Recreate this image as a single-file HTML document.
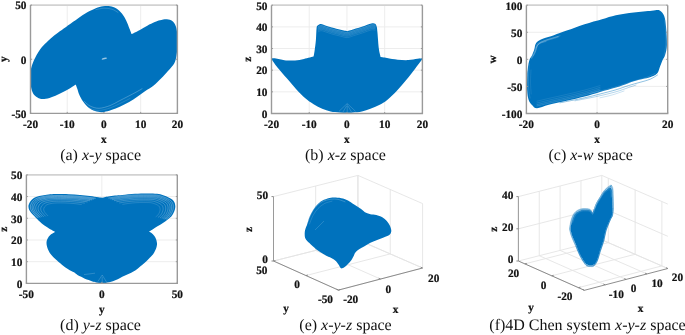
<!DOCTYPE html><html><head><meta charset="utf-8"><style>html,body{margin:0;padding:0;background:#fff;}body{width:685px;height:335px;overflow:hidden}svg{display:block;will-change:transform}text{font-family:"Liberation Serif";fill:#111;text-rendering:geometricPrecision}text[font-weight]{stroke:#111;stroke-width:0.22px}</style></head><body>
<svg width="685" height="335" viewBox="0 0 685 335">
<rect width="685" height="335" fill="#fff"/>
<line x1="67.22" y1="5.10" x2="67.22" y2="113.40" stroke="#ebebeb" stroke-width="0.9"/>
<line x1="103.95" y1="5.10" x2="103.95" y2="113.40" stroke="#ebebeb" stroke-width="0.9"/>
<line x1="140.68" y1="5.10" x2="140.68" y2="113.40" stroke="#ebebeb" stroke-width="0.9"/>
<line x1="30.50" y1="59.25" x2="177.40" y2="59.25" stroke="#ebebeb" stroke-width="0.9"/>
<path d="M103.00,6.30 C105.38,5.95 107.93,5.88 110.10,6.20 C112.27,6.52 114.03,7.00 116.00,8.20 C117.97,9.40 120.17,11.28 121.90,13.40 C123.63,15.52 125.15,18.40 126.40,20.90 C127.65,23.40 128.53,26.22 129.40,28.40 C130.27,30.58 131.60,34.00 131.60,34.00 C131.60,34.00 137.28,31.28 139.90,29.90 C142.52,28.52 144.82,27.00 147.30,25.70 C149.78,24.40 152.68,23.00 154.80,22.10 C156.92,21.20 157.98,20.77 160.00,20.30 C162.02,19.83 164.85,19.17 166.90,19.30 C168.95,19.43 170.80,19.90 172.30,21.10 C173.80,22.30 175.08,24.40 175.90,26.50 C176.72,28.60 176.97,31.12 177.20,33.70 C177.43,36.28 177.30,39.32 177.30,42.00 C177.30,44.68 177.43,47.00 177.20,49.80 C176.97,52.60 176.57,56.25 175.90,58.80 C175.23,61.35 174.82,62.75 173.20,65.10 C171.58,67.45 168.40,70.50 166.20,72.90 C164.00,75.30 162.08,77.42 160.00,79.50 C157.92,81.58 156.20,83.45 153.70,85.40 C151.20,87.35 147.73,89.32 145.00,91.20 C142.27,93.08 139.93,94.90 137.30,96.70 C134.67,98.50 132.03,100.37 129.20,102.00 C126.37,103.63 123.28,105.15 120.30,106.50 C117.32,107.85 113.98,109.18 111.30,110.10 C108.62,111.02 106.13,111.70 104.20,112.00 C102.27,112.30 101.50,112.15 99.70,111.90 C97.90,111.65 95.48,111.40 93.40,110.50 C91.32,109.60 88.98,108.07 87.20,106.50 C85.42,104.93 84.03,103.10 82.70,101.10 C81.37,99.10 80.12,96.60 79.20,94.50 C78.28,92.40 77.78,90.17 77.20,88.50 C76.62,86.83 75.70,84.50 75.70,84.50 C75.70,84.50 73.98,85.75 72.30,86.80 C70.62,87.85 68.07,89.47 65.60,90.80 C63.13,92.13 60.18,93.62 57.50,94.80 C54.82,95.98 51.95,97.22 49.50,97.90 C47.05,98.58 44.60,98.85 42.80,98.90 C41.00,98.95 40.17,98.88 38.70,98.20 C37.23,97.52 35.22,96.37 34.00,94.80 C32.78,93.23 31.97,91.15 31.40,88.80 C30.83,86.45 30.73,83.50 30.60,80.70 C30.47,77.90 30.42,74.40 30.60,72.00 C30.78,69.60 31.02,68.50 31.70,66.30 C32.38,64.10 33.58,61.17 34.70,58.80 C35.82,56.43 37.03,54.22 38.40,52.10 C39.77,49.98 40.90,48.33 42.90,46.10 C44.90,43.87 47.90,40.93 50.40,38.70 C52.90,36.47 55.42,34.57 57.90,32.70 C60.38,30.83 63.45,28.82 65.30,27.50 C67.15,26.18 66.90,26.30 69.00,24.80 C71.10,23.30 74.92,20.53 77.90,18.50 C80.88,16.47 83.92,14.30 86.90,12.60 C89.88,10.90 93.12,9.35 95.80,8.30 C98.48,7.25 100.62,6.65 103.00,6.30Z" fill="#0072BD"/>
<ellipse cx="104.3" cy="58.6" rx="2.8" ry="0.8" transform="rotate(-15 104.3 58.6)" fill="#fff" fill-opacity="0.6"/>
<path d="M84.50,101.50 C85.42,102.25 87.58,104.87 90.00,106.00 C92.42,107.13 95.67,108.37 99.00,108.30 C102.33,108.23 106.67,106.82 110.00,105.60 C113.33,104.38 116.00,102.53 119.00,101.00 C122.00,99.47 125.17,97.87 128.00,96.40 C130.83,94.93 133.67,93.47 136.00,92.20 C138.33,90.93 141.00,89.37 142.00,88.80" fill="none" stroke="#fff" stroke-width="0.55" stroke-opacity="0.45" stroke-linecap="round"/>
<path d="M83.00,103.50 C84.17,104.30 87.33,107.15 90.00,108.30 C92.67,109.45 95.67,110.45 99.00,110.40 C102.33,110.35 106.50,109.15 110.00,108.00 C113.50,106.85 116.67,105.08 120.00,103.50 C123.33,101.92 128.33,99.33 130.00,98.50" fill="none" stroke="#fff" stroke-width="0.45" stroke-opacity="0.3" stroke-linecap="round"/>
<path d="M96.00,9.60 C97.33,9.37 101.33,8.27 104.00,8.20 C106.67,8.13 109.67,8.48 112.00,9.20 C114.33,9.92 117.00,11.95 118.00,12.50" fill="none" stroke="#fff" stroke-width="0.45" stroke-opacity="0.4" stroke-linecap="round"/>
<line x1="30.50" y1="5.10" x2="177.40" y2="5.10" stroke="#d2d2d2" stroke-width="1.8"/>
<path d="M30.50,5.10 L30.50,113.40 L177.40,113.40 L177.40,5.10" fill="none" stroke="#9a9a9a" stroke-width="1.4"/>
<line x1="30.50" y1="113.40" x2="30.50" y2="111.90" stroke="#9a9a9a" stroke-width="1"/>
<line x1="67.22" y1="113.40" x2="67.22" y2="111.90" stroke="#9a9a9a" stroke-width="1"/>
<line x1="103.95" y1="113.40" x2="103.95" y2="111.90" stroke="#9a9a9a" stroke-width="1"/>
<line x1="140.68" y1="113.40" x2="140.68" y2="111.90" stroke="#9a9a9a" stroke-width="1"/>
<line x1="177.40" y1="113.40" x2="177.40" y2="111.90" stroke="#9a9a9a" stroke-width="1"/>
<line x1="30.50" y1="113.40" x2="32.00" y2="113.40" stroke="#9a9a9a" stroke-width="1"/>
<line x1="177.40" y1="113.40" x2="175.90" y2="113.40" stroke="#9a9a9a" stroke-width="1"/>
<line x1="30.50" y1="59.25" x2="32.00" y2="59.25" stroke="#9a9a9a" stroke-width="1"/>
<line x1="177.40" y1="59.25" x2="175.90" y2="59.25" stroke="#9a9a9a" stroke-width="1"/>
<line x1="30.50" y1="5.10" x2="32.00" y2="5.10" stroke="#9a9a9a" stroke-width="1"/>
<line x1="177.40" y1="5.10" x2="175.90" y2="5.10" stroke="#9a9a9a" stroke-width="1"/>
<text x="30.50" y="127.50" font-size="11.3" font-weight="bold" text-anchor="middle">-20</text>
<text x="67.22" y="127.50" font-size="11.3" font-weight="bold" text-anchor="middle">-10</text>
<text x="103.95" y="127.50" font-size="11.3" font-weight="bold" text-anchor="middle">0</text>
<text x="140.68" y="127.50" font-size="11.3" font-weight="bold" text-anchor="middle">10</text>
<text x="177.40" y="127.50" font-size="11.3" font-weight="bold" text-anchor="middle">20</text>
<text x="26.50" y="117.70" font-size="11.3" font-weight="bold" text-anchor="end">-50</text>
<text x="26.50" y="63.55" font-size="11.3" font-weight="bold" text-anchor="end">0</text>
<text x="26.50" y="9.40" font-size="11.3" font-weight="bold" text-anchor="end">50</text>
<text x="103.95" y="142.60" font-size="11.3" font-weight="bold" text-anchor="middle">x</text>
<text x="7.30" y="59.25" font-size="11.3" font-weight="bold" text-anchor="middle" transform="rotate(-90 7.30 59.25)">y</text>
<line x1="309.23" y1="5.20" x2="309.23" y2="113.50" stroke="#ebebeb" stroke-width="0.9"/>
<line x1="346.95" y1="5.20" x2="346.95" y2="113.50" stroke="#ebebeb" stroke-width="0.9"/>
<line x1="384.67" y1="5.20" x2="384.67" y2="113.50" stroke="#ebebeb" stroke-width="0.9"/>
<line x1="271.50" y1="91.84" x2="422.40" y2="91.84" stroke="#ebebeb" stroke-width="0.9"/>
<line x1="271.50" y1="70.18" x2="422.40" y2="70.18" stroke="#ebebeb" stroke-width="0.9"/>
<line x1="271.50" y1="48.52" x2="422.40" y2="48.52" stroke="#ebebeb" stroke-width="0.9"/>
<line x1="271.50" y1="26.86" x2="422.40" y2="26.86" stroke="#ebebeb" stroke-width="0.9"/>
<path d="M271.60,58.20 C271.60,58.20 274.43,58.17 276.00,58.40 C277.57,58.63 279.33,59.25 281.00,59.60 C282.67,59.95 283.67,60.37 286.00,60.50 C288.33,60.63 292.00,60.67 295.00,60.40 C298.00,60.13 300.90,59.53 304.00,58.90 C307.10,58.27 313.60,56.60 313.60,56.60 C313.60,56.60 314.22,53.57 314.60,50.80 C314.98,48.03 315.57,43.78 315.90,40.00 C316.23,36.22 316.30,30.53 316.60,28.10 C316.90,25.67 316.97,26.08 317.70,25.40 C318.43,24.72 319.73,24.00 321.00,24.00 C322.27,24.00 323.48,24.80 325.30,25.40 C327.12,26.00 329.33,26.87 331.90,27.60 C334.47,28.33 338.15,29.20 340.70,29.80 C343.25,30.40 347.20,31.20 347.20,31.20 C347.20,31.20 351.23,29.98 353.80,29.20 C356.37,28.42 359.68,27.45 362.60,26.50 C365.52,25.55 369.22,23.95 371.30,23.50 C373.38,23.05 374.18,23.22 375.10,23.80 C376.02,24.38 376.40,25.47 376.80,27.00 C377.20,28.53 377.15,29.33 377.50,33.00 C377.85,36.67 378.37,44.98 378.90,49.00 C379.43,53.02 380.70,57.10 380.70,57.10 C380.70,57.10 384.17,57.57 387.00,58.00 C389.83,58.43 394.13,59.35 397.70,59.70 C401.27,60.05 405.12,60.25 408.40,60.10 C411.68,59.95 415.08,59.12 417.40,58.80 C419.72,58.48 422.30,58.20 422.30,58.20 C422.30,58.20 422.30,59.20 422.30,59.20 C422.30,59.20 417.98,64.92 415.30,68.40 C412.62,71.88 409.27,76.37 406.20,80.10 C403.13,83.83 400.02,87.53 396.90,90.80 C393.78,94.07 390.45,97.32 387.50,99.70 C384.55,102.08 382.05,103.60 379.20,105.10 C376.35,106.60 373.28,107.65 370.40,108.70 C367.52,109.75 364.82,110.78 361.90,111.40 C358.98,112.02 355.38,112.18 352.90,112.40 C350.42,112.62 349.22,112.70 347.00,112.70 C344.78,112.70 342.33,112.62 339.60,112.40 C336.87,112.18 333.50,112.02 330.60,111.40 C327.70,110.78 325.03,109.90 322.20,108.70 C319.37,107.50 316.47,105.98 313.60,104.20 C310.73,102.42 307.93,100.53 305.00,98.00 C302.07,95.47 299.03,92.28 296.00,89.00 C292.97,85.72 289.63,81.58 286.80,78.30 C283.97,75.02 281.53,72.45 279.00,69.30 C276.47,66.15 271.60,59.40 271.60,59.40 C271.60,59.40 271.60,58.20 271.60,58.20Z" fill="#0072BD"/>
<line x1="347.20" y1="103.50" x2="339.00" y2="111.30" stroke="#fff" stroke-width="0.5" stroke-opacity="0.35"/>
<line x1="347.20" y1="103.50" x2="355.50" y2="111.30" stroke="#fff" stroke-width="0.5" stroke-opacity="0.35"/>
<line x1="346.50" y1="106.00" x2="343.00" y2="112.00" stroke="#fff" stroke-width="0.5" stroke-opacity="0.35"/>
<line x1="348.00" y1="106.00" x2="351.50" y2="112.00" stroke="#fff" stroke-width="0.5" stroke-opacity="0.35"/>
<line x1="347.20" y1="104.00" x2="347.20" y2="112.50" stroke="#fff" stroke-width="0.5" stroke-opacity="0.35"/>
<path d="M318.20,26.90 C318.67,26.68 319.82,25.62 321.00,25.60 C322.18,25.58 323.48,26.23 325.30,26.80 C327.12,27.37 329.33,28.27 331.90,29.00 C334.47,29.73 338.15,30.60 340.70,31.20 C343.25,31.80 345.02,32.70 347.20,32.60 C349.38,32.50 351.23,31.38 353.80,30.60 C356.37,29.82 359.68,28.85 362.60,27.90 C365.52,26.95 369.22,25.35 371.30,24.90 C373.38,24.45 374.47,25.15 375.10,25.20" fill="none" stroke="#fff" stroke-width="0.45" stroke-opacity="0.45" stroke-linecap="round"/>
<path d="M318.20,28.10 C318.67,27.88 319.82,26.82 321.00,26.80 C322.18,26.78 323.48,27.43 325.30,28.00 C327.12,28.57 329.33,29.47 331.90,30.20 C334.47,30.93 338.15,31.80 340.70,32.40 C343.25,33.00 345.02,33.90 347.20,33.80 C349.38,33.70 351.23,32.58 353.80,31.80 C356.37,31.02 359.68,30.05 362.60,29.10 C365.52,28.15 369.22,26.55 371.30,26.10 C373.38,25.65 374.47,26.35 375.10,26.40" fill="none" stroke="#fff" stroke-width="0.45" stroke-opacity="0.4" stroke-linecap="round"/>
<path d="M318.20,29.30 C318.67,29.08 319.82,28.02 321.00,28.00 C322.18,27.98 323.48,28.63 325.30,29.20 C327.12,29.77 329.33,30.67 331.90,31.40 C334.47,32.13 338.15,33.00 340.70,33.60 C343.25,34.20 345.02,35.10 347.20,35.00 C349.38,34.90 351.23,33.78 353.80,33.00 C356.37,32.22 359.68,31.25 362.60,30.30 C365.52,29.35 369.22,27.75 371.30,27.30 C373.38,26.85 374.47,27.55 375.10,27.60" fill="none" stroke="#fff" stroke-width="0.45" stroke-opacity="0.35" stroke-linecap="round"/>
<path d="M318.20,30.50 C318.67,30.28 319.82,29.22 321.00,29.20 C322.18,29.18 323.48,29.83 325.30,30.40 C327.12,30.97 329.33,31.87 331.90,32.60 C334.47,33.33 338.15,34.20 340.70,34.80 C343.25,35.40 345.02,36.30 347.20,36.20 C349.38,36.10 351.23,34.98 353.80,34.20 C356.37,33.42 359.68,32.45 362.60,31.50 C365.52,30.55 369.22,28.95 371.30,28.50 C373.38,28.05 374.47,28.75 375.10,28.80" fill="none" stroke="#fff" stroke-width="0.45" stroke-opacity="0.3" stroke-linecap="round"/>
<path d="M318.20,31.90 C318.67,31.68 319.82,30.62 321.00,30.60 C322.18,30.58 323.48,31.23 325.30,31.80 C327.12,32.37 329.33,33.27 331.90,34.00 C334.47,34.73 338.15,35.60 340.70,36.20 C343.25,36.80 345.02,37.70 347.20,37.60 C349.38,37.50 351.23,36.38 353.80,35.60 C356.37,34.82 359.68,33.85 362.60,32.90 C365.52,31.95 369.22,30.35 371.30,29.90 C373.38,29.45 374.47,30.15 375.10,30.20" fill="none" stroke="#fff" stroke-width="0.45" stroke-opacity="0.25" stroke-linecap="round"/>
<line x1="271.50" y1="5.20" x2="422.40" y2="5.20" stroke="#d2d2d2" stroke-width="1.8"/>
<path d="M271.50,5.20 L271.50,113.50 L422.40,113.50 L422.40,5.20" fill="none" stroke="#9a9a9a" stroke-width="1.4"/>
<line x1="271.50" y1="113.50" x2="271.50" y2="112.00" stroke="#9a9a9a" stroke-width="1"/>
<line x1="309.23" y1="113.50" x2="309.23" y2="112.00" stroke="#9a9a9a" stroke-width="1"/>
<line x1="346.95" y1="113.50" x2="346.95" y2="112.00" stroke="#9a9a9a" stroke-width="1"/>
<line x1="384.67" y1="113.50" x2="384.67" y2="112.00" stroke="#9a9a9a" stroke-width="1"/>
<line x1="422.40" y1="113.50" x2="422.40" y2="112.00" stroke="#9a9a9a" stroke-width="1"/>
<line x1="271.50" y1="113.50" x2="273.00" y2="113.50" stroke="#9a9a9a" stroke-width="1"/>
<line x1="422.40" y1="113.50" x2="420.90" y2="113.50" stroke="#9a9a9a" stroke-width="1"/>
<line x1="271.50" y1="91.84" x2="273.00" y2="91.84" stroke="#9a9a9a" stroke-width="1"/>
<line x1="422.40" y1="91.84" x2="420.90" y2="91.84" stroke="#9a9a9a" stroke-width="1"/>
<line x1="271.50" y1="70.18" x2="273.00" y2="70.18" stroke="#9a9a9a" stroke-width="1"/>
<line x1="422.40" y1="70.18" x2="420.90" y2="70.18" stroke="#9a9a9a" stroke-width="1"/>
<line x1="271.50" y1="48.52" x2="273.00" y2="48.52" stroke="#9a9a9a" stroke-width="1"/>
<line x1="422.40" y1="48.52" x2="420.90" y2="48.52" stroke="#9a9a9a" stroke-width="1"/>
<line x1="271.50" y1="26.86" x2="273.00" y2="26.86" stroke="#9a9a9a" stroke-width="1"/>
<line x1="422.40" y1="26.86" x2="420.90" y2="26.86" stroke="#9a9a9a" stroke-width="1"/>
<line x1="271.50" y1="5.20" x2="273.00" y2="5.20" stroke="#9a9a9a" stroke-width="1"/>
<line x1="422.40" y1="5.20" x2="420.90" y2="5.20" stroke="#9a9a9a" stroke-width="1"/>
<text x="271.50" y="127.60" font-size="11.3" font-weight="bold" text-anchor="middle">-20</text>
<text x="309.23" y="127.60" font-size="11.3" font-weight="bold" text-anchor="middle">-10</text>
<text x="346.95" y="127.60" font-size="11.3" font-weight="bold" text-anchor="middle">0</text>
<text x="384.67" y="127.60" font-size="11.3" font-weight="bold" text-anchor="middle">10</text>
<text x="422.40" y="127.60" font-size="11.3" font-weight="bold" text-anchor="middle">20</text>
<text x="267.50" y="117.80" font-size="11.3" font-weight="bold" text-anchor="end">0</text>
<text x="267.50" y="96.14" font-size="11.3" font-weight="bold" text-anchor="end">10</text>
<text x="267.50" y="74.48" font-size="11.3" font-weight="bold" text-anchor="end">20</text>
<text x="267.50" y="52.82" font-size="11.3" font-weight="bold" text-anchor="end">30</text>
<text x="267.50" y="31.16" font-size="11.3" font-weight="bold" text-anchor="end">40</text>
<text x="267.50" y="9.50" font-size="11.3" font-weight="bold" text-anchor="end">50</text>
<text x="346.95" y="142.70" font-size="11.3" font-weight="bold" text-anchor="middle">x</text>
<text x="251.40" y="59.35" font-size="11.3" font-weight="bold" text-anchor="middle" transform="rotate(-90 251.40 59.35)">z</text>
<line x1="597.05" y1="5.20" x2="597.05" y2="113.50" stroke="#ebebeb" stroke-width="0.9"/>
<line x1="526.40" y1="86.42" x2="667.70" y2="86.42" stroke="#ebebeb" stroke-width="0.9"/>
<line x1="526.40" y1="59.35" x2="667.70" y2="59.35" stroke="#ebebeb" stroke-width="0.9"/>
<line x1="526.40" y1="32.28" x2="667.70" y2="32.28" stroke="#ebebeb" stroke-width="0.9"/>
<path d="M530.00,58.60 C530.62,57.12 531.47,56.52 532.20,54.90 C532.93,53.28 533.87,50.65 534.40,48.90 C534.93,47.15 534.87,45.65 535.40,44.40 C535.93,43.15 536.27,42.40 537.60,41.40 C538.93,40.40 540.68,39.43 543.40,38.40 C546.12,37.37 550.02,36.50 553.90,35.20 C557.78,33.90 561.58,32.43 566.70,30.60 C571.82,28.77 578.72,26.10 584.60,24.20 C590.48,22.30 596.78,20.70 602.00,19.20 C607.22,17.70 610.60,16.32 615.90,15.20 C621.20,14.08 627.83,13.25 633.80,12.50 C639.77,11.75 647.38,11.05 651.70,10.70 C656.02,10.35 657.62,9.50 659.70,10.40 C661.78,11.30 663.15,13.37 664.20,16.10 C665.25,18.83 665.55,22.03 666.00,26.80 C666.45,31.57 667.05,40.00 666.90,44.70 C666.75,49.40 665.85,52.38 665.10,55.00 C664.35,57.62 663.30,58.32 662.40,60.40 C661.50,62.48 660.58,65.32 659.70,67.50 C658.82,69.68 658.72,71.87 657.10,73.50 C655.48,75.13 652.40,76.38 650.00,77.30 C647.60,78.22 645.40,78.35 642.70,79.00 C640.00,79.65 636.18,80.50 633.80,81.20 C631.42,81.90 631.38,82.15 628.40,83.20 C625.42,84.25 620.63,86.03 615.90,87.50 C611.17,88.97 605.22,90.50 600.00,92.00 C594.78,93.50 590.15,95.03 584.60,96.50 C579.05,97.97 572.67,99.42 566.70,100.80 C560.73,102.18 553.75,103.55 548.80,104.80 C543.85,106.05 539.80,108.27 537.00,108.30 C534.20,108.33 533.40,106.43 532.00,105.00 C530.60,103.57 529.40,102.07 528.60,99.70 C527.80,97.33 527.42,94.92 527.20,90.80 C526.98,86.68 527.22,78.50 527.30,75.00 C527.38,71.50 527.50,71.67 527.70,69.80 C527.90,67.93 528.12,65.67 528.50,63.80 C528.88,61.93 529.38,60.08 530.00,58.60Z" fill="#0072BD"/>
<path d="M531.50,58.00 C532.00,57.17 533.70,54.75 534.50,53.00 C535.30,51.25 535.80,48.92 536.30,47.50 C536.80,46.08 536.72,45.37 537.50,44.50 C538.28,43.63 539.08,43.12 541.00,42.30 C542.92,41.48 546.17,40.52 549.00,39.60 C551.83,38.68 556.50,37.27 558.00,36.80" fill="none" stroke="#fff" stroke-width="1.6" stroke-opacity="0.2" stroke-linecap="round"/>
<path d="M536.30,47.50 C536.67,46.95 537.38,45.25 538.50,44.20 C539.62,43.15 540.75,42.20 543.00,41.20 C545.25,40.20 549.17,39.10 552.00,38.20 C554.83,37.30 558.67,36.20 560.00,35.80" fill="none" stroke="#fff" stroke-width="0.5" stroke-opacity="0.35" stroke-linecap="round"/>
<path d="M533.00,56.00 C533.43,55.17 534.90,52.67 535.60,51.00 C536.30,49.33 536.47,47.27 537.20,46.00 C537.93,44.73 538.53,44.15 540.00,43.40 C541.47,42.65 545.00,41.82 546.00,41.50" fill="none" stroke="#fff" stroke-width="0.45" stroke-opacity="0.35" stroke-linecap="round"/>
<path d="M560.00,102.80 C564.10,101.97 577.93,99.27 584.60,97.80 C591.27,96.33 594.78,95.33 600.00,94.00 C605.22,92.67 611.17,91.20 615.90,89.80 C620.63,88.40 624.38,86.85 628.40,85.60 C632.42,84.35 636.40,83.35 640.00,82.30 C643.60,81.25 647.08,80.52 650.00,79.30 C652.92,78.08 656.25,75.72 657.50,75.00" fill="none" stroke="#0072BD" stroke-width="0.55" stroke-opacity="0.8" stroke-linecap="round"/>
<path d="M575.00,100.80 C578.83,100.03 591.18,97.70 598.00,96.20 C604.82,94.70 610.83,93.23 615.90,91.80 C620.97,90.37 625.05,88.73 628.40,87.60 C631.75,86.47 634.73,85.43 636.00,85.00" fill="none" stroke="#0072BD" stroke-width="0.5" stroke-opacity="0.6" stroke-linecap="round"/>
<path d="M600.00,97.80 C602.00,97.33 608.00,96.13 612.00,95.00 C616.00,93.87 622.00,91.67 624.00,91.00" fill="none" stroke="#0072BD" stroke-width="0.45" stroke-opacity="0.45" stroke-linecap="round"/>
<path d="M590.00,93.50 C592.67,92.85 601.00,90.92 606.00,89.60 C611.00,88.28 615.67,86.93 620.00,85.60 C624.33,84.27 627.67,82.93 632.00,81.60 C636.33,80.27 642.17,78.95 646.00,77.60 C649.83,76.25 653.50,74.18 655.00,73.50" fill="none" stroke="#fff" stroke-width="0.45" stroke-opacity="0.3" stroke-linecap="round"/>
<path d="M664.50,20.00 C664.67,21.67 665.28,26.00 665.50,30.00 C665.72,34.00 666.05,39.67 665.80,44.00 C665.55,48.33 664.30,54.00 664.00,56.00" fill="none" stroke="#fff" stroke-width="0.4" stroke-opacity="0.25" stroke-linecap="round"/>
<path d="M537.00,106.00 C538.97,105.53 543.85,104.33 548.80,103.20 C553.75,102.07 560.73,100.58 566.70,99.20 C572.67,97.82 579.05,96.37 584.60,94.90 C590.15,93.43 597.43,91.15 600.00,90.40" fill="none" stroke="#fff" stroke-width="0.45" stroke-opacity="0.35" stroke-linecap="round"/>
<path d="M537.00,104.60 C538.97,104.13 543.85,102.93 548.80,101.80 C553.75,100.67 560.73,99.18 566.70,97.80 C572.67,96.42 579.05,94.97 584.60,93.50 C590.15,92.03 597.43,89.75 600.00,89.00" fill="none" stroke="#fff" stroke-width="0.45" stroke-opacity="0.3" stroke-linecap="round"/>
<path d="M537.00,103.00 C538.97,102.53 543.85,101.33 548.80,100.20 C553.75,99.07 560.73,97.58 566.70,96.20 C572.67,94.82 579.05,93.37 584.60,91.90 C590.15,90.43 597.43,88.15 600.00,87.40" fill="none" stroke="#fff" stroke-width="0.45" stroke-opacity="0.25" stroke-linecap="round"/>
<path d="M537.00,101.20 C538.97,100.73 543.85,99.53 548.80,98.40 C553.75,97.27 560.73,95.78 566.70,94.40 C572.67,93.02 579.05,91.57 584.60,90.10 C590.15,88.63 597.43,86.35 600.00,85.60" fill="none" stroke="#fff" stroke-width="0.45" stroke-opacity="0.2" stroke-linecap="round"/>
<path d="M529.30,64.00 C529.18,65.83 528.72,71.00 528.60,75.00 C528.48,79.00 528.37,84.17 528.60,88.00 C528.83,91.83 529.77,96.33 530.00,98.00" fill="none" stroke="#fff" stroke-width="0.5" stroke-opacity="0.25" stroke-linecap="round"/>
<path d="M531.00,70.00 C530.92,72.00 530.47,78.00 530.50,82.00 C530.53,86.00 531.08,92.00 531.20,94.00" fill="none" stroke="#fff" stroke-width="0.4" stroke-opacity="0.2" stroke-linecap="round"/>
<line x1="526.40" y1="5.20" x2="667.70" y2="5.20" stroke="#d2d2d2" stroke-width="1.8"/>
<path d="M526.40,5.20 L526.40,113.50 L667.70,113.50 L667.70,5.20" fill="none" stroke="#9a9a9a" stroke-width="1.4"/>
<line x1="526.40" y1="113.50" x2="526.40" y2="112.00" stroke="#9a9a9a" stroke-width="1"/>
<line x1="597.05" y1="113.50" x2="597.05" y2="112.00" stroke="#9a9a9a" stroke-width="1"/>
<line x1="667.70" y1="113.50" x2="667.70" y2="112.00" stroke="#9a9a9a" stroke-width="1"/>
<line x1="526.40" y1="113.50" x2="527.90" y2="113.50" stroke="#9a9a9a" stroke-width="1"/>
<line x1="667.70" y1="113.50" x2="666.20" y2="113.50" stroke="#9a9a9a" stroke-width="1"/>
<line x1="526.40" y1="86.42" x2="527.90" y2="86.42" stroke="#9a9a9a" stroke-width="1"/>
<line x1="667.70" y1="86.42" x2="666.20" y2="86.42" stroke="#9a9a9a" stroke-width="1"/>
<line x1="526.40" y1="59.35" x2="527.90" y2="59.35" stroke="#9a9a9a" stroke-width="1"/>
<line x1="667.70" y1="59.35" x2="666.20" y2="59.35" stroke="#9a9a9a" stroke-width="1"/>
<line x1="526.40" y1="32.28" x2="527.90" y2="32.28" stroke="#9a9a9a" stroke-width="1"/>
<line x1="667.70" y1="32.28" x2="666.20" y2="32.28" stroke="#9a9a9a" stroke-width="1"/>
<line x1="526.40" y1="5.20" x2="527.90" y2="5.20" stroke="#9a9a9a" stroke-width="1"/>
<line x1="667.70" y1="5.20" x2="666.20" y2="5.20" stroke="#9a9a9a" stroke-width="1"/>
<text x="526.40" y="127.60" font-size="11.3" font-weight="bold" text-anchor="middle">-20</text>
<text x="597.05" y="127.60" font-size="11.3" font-weight="bold" text-anchor="middle">0</text>
<text x="667.70" y="127.60" font-size="11.3" font-weight="bold" text-anchor="middle">20</text>
<text x="522.40" y="117.80" font-size="11.3" font-weight="bold" text-anchor="end">-100</text>
<text x="522.40" y="90.72" font-size="11.3" font-weight="bold" text-anchor="end">-50</text>
<text x="522.40" y="63.65" font-size="11.3" font-weight="bold" text-anchor="end">0</text>
<text x="522.40" y="36.58" font-size="11.3" font-weight="bold" text-anchor="end">50</text>
<text x="522.40" y="9.50" font-size="11.3" font-weight="bold" text-anchor="end">100</text>
<text x="597.05" y="142.70" font-size="11.3" font-weight="bold" text-anchor="middle">x</text>
<text x="496.40" y="59.35" font-size="11.3" font-weight="bold" text-anchor="middle" transform="rotate(-90 496.40 59.35)">w</text>
<line x1="101.85" y1="174.85" x2="101.85" y2="283.40" stroke="#ebebeb" stroke-width="0.9"/>
<line x1="26.40" y1="261.69" x2="177.30" y2="261.69" stroke="#ebebeb" stroke-width="0.9"/>
<line x1="26.40" y1="239.98" x2="177.30" y2="239.98" stroke="#ebebeb" stroke-width="0.9"/>
<line x1="26.40" y1="218.27" x2="177.30" y2="218.27" stroke="#ebebeb" stroke-width="0.9"/>
<line x1="26.40" y1="196.56" x2="177.30" y2="196.56" stroke="#ebebeb" stroke-width="0.9"/>
<path d="M102.30,197.80 C102.30,197.80 105.88,196.97 108.00,196.60 C110.12,196.23 112.63,195.88 115.00,195.60 C117.37,195.32 118.87,195.22 122.20,194.90 C125.53,194.58 130.70,193.95 135.00,193.70 C139.30,193.45 144.33,193.38 148.00,193.40 C151.67,193.42 154.47,193.50 157.00,193.80 C159.53,194.10 161.27,194.60 163.20,195.20 C165.13,195.80 167.10,196.67 168.60,197.40 C170.10,198.13 171.23,198.78 172.20,199.60 C173.17,200.42 173.88,201.25 174.40,202.30 C174.92,203.35 175.22,204.70 175.30,205.90 C175.38,207.10 175.20,208.30 174.90,209.50 C174.60,210.70 174.10,211.92 173.50,213.10 C172.90,214.28 172.32,215.48 171.30,216.60 C170.28,217.72 168.80,218.73 167.40,219.80 C166.00,220.87 164.40,222.02 162.90,223.00 C161.40,223.98 159.88,224.80 158.40,225.70 C156.92,226.60 155.57,227.43 154.00,228.40 C152.43,229.37 149.00,231.50 149.00,231.50 C149.00,231.50 150.63,232.38 151.50,233.10 C152.37,233.82 153.45,234.82 154.20,235.80 C154.95,236.78 155.55,237.88 156.00,239.00 C156.45,240.12 156.75,241.47 156.90,242.50 C157.05,243.53 157.05,244.15 156.90,245.20 C156.75,246.25 156.45,247.60 156.00,248.80 C155.55,250.00 154.87,251.28 154.20,252.40 C153.53,253.52 152.70,254.63 152.00,255.50 C151.30,256.37 150.85,256.73 150.00,257.60 C149.15,258.47 148.17,259.50 146.90,260.70 C145.63,261.90 143.90,263.52 142.40,264.80 C140.90,266.08 139.40,267.28 137.90,268.40 C136.40,269.52 134.88,270.62 133.40,271.50 C131.92,272.38 130.48,273.00 129.00,273.70 C127.52,274.40 125.98,275.00 124.50,275.70 C123.02,276.40 121.43,277.23 120.10,277.90 C118.77,278.57 117.70,279.15 116.50,279.70 C115.30,280.25 114.10,280.77 112.90,281.20 C111.70,281.63 110.50,282.02 109.30,282.30 C108.10,282.58 106.88,282.75 105.70,282.90 C104.52,283.05 103.80,283.28 102.20,283.20 C100.60,283.12 97.73,282.67 96.10,282.40 C94.47,282.13 93.63,281.98 92.40,281.60 C91.17,281.22 89.95,280.58 88.70,280.10 C87.45,279.62 86.15,279.25 84.90,278.70 C83.65,278.15 82.43,277.43 81.20,276.80 C79.97,276.17 78.70,275.65 77.50,274.90 C76.30,274.15 75.55,273.25 74.00,272.30 C72.45,271.35 70.22,270.47 68.20,269.20 C66.18,267.93 64.00,266.35 61.90,264.70 C59.80,263.05 57.38,260.95 55.60,259.30 C53.82,257.65 52.38,256.28 51.20,254.80 C50.02,253.32 49.20,251.78 48.50,250.40 C47.80,249.02 47.33,247.73 47.00,246.50 C46.67,245.27 46.52,244.03 46.50,243.00 C46.48,241.97 46.63,241.18 46.90,240.30 C47.17,239.42 47.62,238.52 48.10,237.70 C48.58,236.88 49.07,236.08 49.80,235.40 C50.53,234.72 51.60,234.20 52.50,233.60 C53.40,233.00 55.20,231.80 55.20,231.80 C55.20,231.80 54.43,231.45 53.40,230.90 C52.37,230.35 50.43,229.35 49.00,228.50 C47.57,227.65 46.05,226.68 44.80,225.80 C43.55,224.92 42.55,224.08 41.50,223.20 C40.45,222.32 39.45,221.40 38.50,220.50 C37.55,219.60 36.68,218.70 35.80,217.80 C34.92,216.90 34.02,216.00 33.20,215.10 C32.38,214.20 31.58,213.30 30.90,212.40 C30.22,211.50 29.50,210.60 29.10,209.70 C28.70,208.80 28.57,207.82 28.50,207.00 C28.43,206.18 28.37,205.77 28.70,204.80 C29.03,203.83 29.75,202.25 30.50,201.20 C31.25,200.15 32.17,199.25 33.20,198.50 C34.23,197.75 35.22,197.22 36.70,196.70 C38.18,196.18 40.15,195.77 42.10,195.40 C44.05,195.03 46.08,194.72 48.40,194.50 C50.72,194.28 52.62,194.13 56.00,194.10 C59.38,194.07 64.70,194.15 68.70,194.30 C72.70,194.45 76.45,194.72 80.00,195.00 C83.55,195.28 86.92,195.62 90.00,196.00 C93.08,196.38 96.45,197.00 98.50,197.30 C100.55,197.60 102.30,197.80 102.30,197.80Z" fill="#0072BD"/>
<path d="M95.25,198.28 C93.83,198.09 90.18,197.52 86.70,197.14 C83.22,196.76 78.78,196.26 74.35,196.00 C69.92,195.73 64.31,195.55 60.10,195.52 C55.89,195.49 51.91,195.62 49.08,195.81 C46.25,196.00 44.95,196.31 43.09,196.66 C41.24,197.01 39.37,197.40 37.97,197.89 C36.56,198.39 35.62,198.89 34.64,199.61 C33.66,200.32 32.76,201.20 32.08,202.17 C31.39,203.14 30.82,204.51 30.55,205.40 C30.29,206.29 30.38,206.73 30.46,207.49 C30.54,208.25 30.65,209.14 31.03,209.96 C31.41,210.78 32.09,211.59 32.74,212.43 C33.39,213.27 34.15,214.14 34.92,215.00 C35.70,215.85 36.98,217.13 37.40,217.56" fill="none" stroke="#fff" stroke-width="0.65" stroke-opacity="0.5" stroke-linecap="round"/>
<path d="M93.50,199.05 C92.15,198.87 88.70,198.33 85.40,197.97 C82.10,197.61 77.90,197.14 73.70,196.89 C69.50,196.63 64.19,196.47 60.20,196.44 C56.21,196.41 52.45,196.53 49.76,196.71 C47.07,196.89 45.84,197.19 44.09,197.52 C42.34,197.85 40.57,198.22 39.23,198.69 C37.90,199.16 37.01,199.63 36.08,200.31 C35.15,200.99 34.30,201.83 33.65,202.74 C33.00,203.66 32.46,204.96 32.21,205.80 C31.95,206.64 32.04,207.06 32.12,207.78 C32.20,208.50 32.30,209.34 32.66,210.12 C33.02,210.90 33.66,211.67 34.28,212.46 C34.90,213.25 35.61,214.08 36.35,214.89 C37.08,215.70 38.30,216.92 38.69,217.32" fill="none" stroke="#fff" stroke-width="0.65" stroke-opacity="0.45" stroke-linecap="round"/>
<path d="M91.75,199.82 C90.47,199.66 87.22,199.15 84.10,198.81 C80.98,198.47 77.02,198.03 73.05,197.78 C69.08,197.54 64.07,197.39 60.30,197.36 C56.53,197.33 52.98,197.44 50.44,197.62 C47.90,197.79 46.74,198.07 45.09,198.38 C43.43,198.69 41.76,199.05 40.50,199.48 C39.23,199.92 38.40,200.38 37.52,201.02 C36.64,201.65 35.83,202.45 35.23,203.31 C34.62,204.17 34.11,205.41 33.86,206.20 C33.62,206.99 33.71,207.39 33.78,208.07 C33.85,208.75 33.95,209.54 34.29,210.28 C34.63,211.02 35.24,211.74 35.82,212.49 C36.40,213.24 37.08,214.02 37.78,214.78 C38.47,215.55 39.62,216.70 39.98,217.08" fill="none" stroke="#fff" stroke-width="0.65" stroke-opacity="0.45" stroke-linecap="round"/>
<path d="M89.65,200.75 C88.47,200.60 85.44,200.12 82.54,199.81 C79.64,199.49 75.96,199.08 72.27,198.86 C68.58,198.64 63.92,198.49 60.42,198.46 C56.92,198.44 53.61,198.54 51.26,198.70 C48.90,198.86 47.82,199.12 46.28,199.41 C44.74,199.70 43.18,200.03 42.01,200.44 C40.84,200.85 40.06,201.27 39.25,201.86 C38.43,202.45 37.68,203.19 37.11,203.99 C36.55,204.80 36.07,205.94 35.85,206.68 C35.63,207.42 35.71,207.79 35.77,208.42 C35.84,209.05 35.93,209.79 36.25,210.47 C36.56,211.16 37.13,211.83 37.67,212.53 C38.21,213.22 38.84,213.95 39.48,214.66 C40.13,215.37 41.20,216.44 41.54,216.79" fill="none" stroke="#fff" stroke-width="0.65" stroke-opacity="0.4" stroke-linecap="round"/>
<path d="M87.20,201.84 C86.12,201.70 83.36,201.26 80.72,200.98 C78.08,200.69 74.72,200.32 71.36,200.11 C68.00,199.91 63.75,199.78 60.56,199.75 C57.37,199.73 54.36,199.82 52.21,199.97 C50.06,200.11 49.08,200.35 47.67,200.62 C46.27,200.88 44.85,201.18 43.78,201.55 C42.72,201.92 42.01,202.31 41.26,202.85 C40.52,203.39 39.84,204.06 39.32,204.79 C38.80,205.52 38.37,206.57 38.17,207.24 C37.96,207.91 38.04,208.25 38.10,208.82 C38.16,209.40 38.24,210.07 38.53,210.70 C38.82,211.32 39.33,211.93 39.82,212.57 C40.32,213.20 40.89,213.86 41.48,214.51 C42.07,215.16 43.04,216.13 43.35,216.46" fill="none" stroke="#fff" stroke-width="0.65" stroke-opacity="0.38" stroke-linecap="round"/>
<path d="M84.40,203.08 C83.44,202.95 80.99,202.57 78.64,202.31 C76.29,202.06 73.31,201.73 70.32,201.54 C67.33,201.36 63.56,201.25 60.72,201.22 C57.88,201.20 55.21,201.29 53.30,201.42 C51.39,201.54 50.51,201.76 49.26,201.99 C48.02,202.23 46.76,202.49 45.81,202.82 C44.86,203.15 44.23,203.50 43.57,203.98 C42.91,204.46 42.30,205.05 41.84,205.70 C41.38,206.35 41.00,207.28 40.82,207.88 C40.63,208.48 40.70,208.78 40.75,209.29 C40.81,209.80 40.88,210.40 41.14,210.95 C41.39,211.51 41.85,212.05 42.29,212.62 C42.73,213.18 43.24,213.77 43.76,214.34 C44.28,214.92 45.15,215.78 45.42,216.07" fill="none" stroke="#fff" stroke-width="0.65" stroke-opacity="0.32" stroke-linecap="round"/>
<path d="M81.25,204.47 C80.42,204.37 78.32,204.03 76.30,203.81 C74.28,203.59 71.72,203.31 69.15,203.16 C66.58,203.00 63.34,202.90 60.90,202.88 C58.46,202.86 56.16,202.94 54.52,203.05 C52.88,203.16 52.13,203.34 51.05,203.54 C49.98,203.74 48.90,203.97 48.09,204.25 C47.27,204.54 46.73,204.83 46.16,205.25 C45.59,205.66 45.07,206.17 44.67,206.73 C44.28,207.29 43.95,208.09 43.80,208.60 C43.64,209.11 43.69,209.37 43.74,209.81 C43.79,210.25 43.85,210.76 44.07,211.24 C44.29,211.72 44.68,212.18 45.06,212.67 C45.44,213.16 45.88,213.66 46.33,214.16 C46.77,214.65 47.52,215.39 47.75,215.64" fill="none" stroke="#fff" stroke-width="0.65" stroke-opacity="0.25" stroke-linecap="round"/>
<path d="M108.75,198.09 C110.49,197.80 115.24,196.87 119.20,196.38 C123.16,195.88 128.38,195.38 132.50,195.14 C136.62,194.90 139.94,194.95 143.90,194.95 C147.86,194.95 153.21,194.89 156.25,195.14 C159.29,195.39 160.30,195.90 162.14,196.47 C163.98,197.04 165.84,197.86 167.27,198.56 C168.69,199.26 169.80,199.89 170.69,200.65 C171.58,201.41 172.15,202.19 172.59,203.12 C173.03,204.05 173.29,205.16 173.35,206.25 C173.41,207.35 173.25,208.54 172.97,209.68 C172.69,210.81 172.21,211.97 171.64,213.09 C171.07,214.22 170.47,215.39 169.55,216.42 C168.63,217.45 166.70,218.79 166.13,219.27" fill="none" stroke="#fff" stroke-width="0.65" stroke-opacity="0.45" stroke-linecap="round"/>
<path d="M110.50,198.87 C112.15,198.60 116.65,197.72 120.40,197.25 C124.15,196.78 129.10,196.30 133.00,196.08 C136.90,195.85 140.05,195.90 143.80,195.90 C147.55,195.90 152.62,195.84 155.50,196.08 C158.38,196.32 159.34,196.80 161.08,197.34 C162.82,197.88 164.59,198.66 165.94,199.32 C167.29,199.98 168.34,200.58 169.18,201.30 C170.02,202.02 170.56,202.75 170.98,203.64 C171.40,204.52 171.64,205.58 171.70,206.61 C171.76,207.65 171.61,208.77 171.34,209.85 C171.07,210.93 170.62,212.03 170.08,213.09 C169.54,214.16 168.97,215.27 168.10,216.24 C167.23,217.22 165.40,218.49 164.86,218.94" fill="none" stroke="#fff" stroke-width="0.65" stroke-opacity="0.42" stroke-linecap="round"/>
<path d="M112.25,199.66 C113.81,199.40 118.06,198.56 121.60,198.12 C125.14,197.69 129.82,197.23 133.50,197.02 C137.18,196.81 140.16,196.85 143.70,196.85 C147.24,196.85 152.03,196.79 154.75,197.02 C157.47,197.25 158.38,197.70 160.02,198.21 C161.66,198.72 163.33,199.46 164.61,200.08 C165.88,200.70 166.88,201.27 167.67,201.95 C168.46,202.63 168.97,203.32 169.37,204.16 C169.77,205.00 169.99,205.99 170.05,206.97 C170.11,207.94 169.96,209.00 169.71,210.03 C169.45,211.05 169.03,212.08 168.52,213.09 C168.01,214.09 167.47,215.14 166.65,216.06 C165.83,216.98 164.10,218.19 163.59,218.61" fill="none" stroke="#fff" stroke-width="0.65" stroke-opacity="0.4" stroke-linecap="round"/>
<path d="M114.35,200.60 C115.80,200.36 119.75,199.58 123.04,199.18 C126.33,198.77 130.68,198.35 134.10,198.15 C137.52,197.95 140.29,197.99 143.58,197.99 C146.87,197.99 151.32,197.94 153.85,198.15 C156.38,198.36 157.22,198.78 158.75,199.25 C160.28,199.73 161.83,200.41 163.01,200.99 C164.20,201.57 165.12,202.10 165.86,202.73 C166.60,203.36 167.07,204.01 167.44,204.78 C167.81,205.56 168.02,206.48 168.07,207.39 C168.12,208.30 167.99,209.29 167.75,210.24 C167.52,211.18 167.12,212.14 166.65,213.08 C166.17,214.01 165.67,214.99 164.91,215.84 C164.15,216.70 162.54,217.82 162.07,218.21" fill="none" stroke="#fff" stroke-width="0.65" stroke-opacity="0.38" stroke-linecap="round"/>
<path d="M116.80,201.70 C118.12,201.48 121.72,200.77 124.72,200.40 C127.72,200.03 131.68,199.64 134.80,199.46 C137.92,199.28 140.44,199.32 143.44,199.32 C146.44,199.32 150.50,199.27 152.80,199.46 C155.10,199.66 155.87,200.04 157.26,200.47 C158.66,200.90 160.07,201.53 161.15,202.06 C162.23,202.58 163.07,203.06 163.74,203.64 C164.42,204.22 164.85,204.80 165.18,205.51 C165.52,206.22 165.71,207.06 165.76,207.89 C165.81,208.72 165.69,209.62 165.47,210.48 C165.26,211.34 164.90,212.22 164.46,213.07 C164.03,213.92 163.58,214.81 162.88,215.59 C162.18,216.37 160.72,217.39 160.29,217.75" fill="none" stroke="#fff" stroke-width="0.65" stroke-opacity="0.35" stroke-linecap="round"/>
<path d="M119.60,202.95 C120.77,202.76 123.97,202.13 126.64,201.80 C129.31,201.47 132.83,201.13 135.60,200.97 C138.37,200.81 140.61,200.84 143.28,200.84 C145.95,200.84 149.55,200.80 151.60,200.97 C153.65,201.14 154.33,201.48 155.57,201.86 C156.81,202.25 158.06,202.80 159.02,203.27 C159.98,203.74 160.73,204.17 161.33,204.68 C161.93,205.19 162.31,205.71 162.61,206.34 C162.91,206.97 163.08,207.72 163.12,208.46 C163.16,209.19 163.06,209.99 162.86,210.76 C162.67,211.53 162.35,212.31 161.97,213.06 C161.58,213.82 161.18,214.61 160.56,215.30 C159.94,216.00 158.64,216.90 158.26,217.22" fill="none" stroke="#fff" stroke-width="0.65" stroke-opacity="0.3" stroke-linecap="round"/>
<path d="M122.75,204.37 C123.76,204.20 126.51,203.66 128.80,203.38 C131.09,203.09 134.12,202.80 136.50,202.66 C138.88,202.52 140.81,202.55 143.10,202.55 C145.39,202.55 148.49,202.51 150.25,202.66 C152.01,202.81 152.60,203.10 153.66,203.43 C154.72,203.76 155.81,204.24 156.63,204.64 C157.45,205.04 158.10,205.41 158.61,205.85 C159.12,206.29 159.45,206.74 159.71,207.28 C159.97,207.82 160.11,208.46 160.15,209.09 C160.19,209.73 160.09,210.41 159.93,211.07 C159.77,211.73 159.49,212.40 159.16,213.06 C158.83,213.71 158.48,214.38 157.95,214.98 C157.42,215.58 156.30,216.35 155.97,216.63" fill="none" stroke="#fff" stroke-width="0.65" stroke-opacity="0.22" stroke-linecap="round"/>
<line x1="102.20" y1="275.00" x2="97.90" y2="281.50" stroke="#fff" stroke-width="0.5" stroke-opacity="0.35"/>
<line x1="102.20" y1="275.00" x2="106.50" y2="282.00" stroke="#fff" stroke-width="0.5" stroke-opacity="0.35"/>
<line x1="102.20" y1="277.00" x2="102.20" y2="283.00" stroke="#fff" stroke-width="0.5" stroke-opacity="0.35"/>
<line x1="84.00" y1="274.60" x2="95.00" y2="273.20" stroke="#fff" stroke-width="0.5" stroke-opacity="0.35"/>
<line x1="26.40" y1="174.85" x2="177.30" y2="174.85" stroke="#d2d2d2" stroke-width="1.8"/>
<path d="M26.40,174.85 L26.40,283.40 L177.30,283.40 L177.30,174.85" fill="none" stroke="#9a9a9a" stroke-width="1.4"/>
<line x1="26.40" y1="283.40" x2="26.40" y2="281.90" stroke="#9a9a9a" stroke-width="1"/>
<line x1="101.85" y1="283.40" x2="101.85" y2="281.90" stroke="#9a9a9a" stroke-width="1"/>
<line x1="177.30" y1="283.40" x2="177.30" y2="281.90" stroke="#9a9a9a" stroke-width="1"/>
<line x1="26.40" y1="283.40" x2="27.90" y2="283.40" stroke="#9a9a9a" stroke-width="1"/>
<line x1="177.30" y1="283.40" x2="175.80" y2="283.40" stroke="#9a9a9a" stroke-width="1"/>
<line x1="26.40" y1="261.69" x2="27.90" y2="261.69" stroke="#9a9a9a" stroke-width="1"/>
<line x1="177.30" y1="261.69" x2="175.80" y2="261.69" stroke="#9a9a9a" stroke-width="1"/>
<line x1="26.40" y1="239.98" x2="27.90" y2="239.98" stroke="#9a9a9a" stroke-width="1"/>
<line x1="177.30" y1="239.98" x2="175.80" y2="239.98" stroke="#9a9a9a" stroke-width="1"/>
<line x1="26.40" y1="218.27" x2="27.90" y2="218.27" stroke="#9a9a9a" stroke-width="1"/>
<line x1="177.30" y1="218.27" x2="175.80" y2="218.27" stroke="#9a9a9a" stroke-width="1"/>
<line x1="26.40" y1="196.56" x2="27.90" y2="196.56" stroke="#9a9a9a" stroke-width="1"/>
<line x1="177.30" y1="196.56" x2="175.80" y2="196.56" stroke="#9a9a9a" stroke-width="1"/>
<line x1="26.40" y1="174.85" x2="27.90" y2="174.85" stroke="#9a9a9a" stroke-width="1"/>
<line x1="177.30" y1="174.85" x2="175.80" y2="174.85" stroke="#9a9a9a" stroke-width="1"/>
<text x="26.40" y="297.50" font-size="11.3" font-weight="bold" text-anchor="middle">-50</text>
<text x="101.85" y="297.50" font-size="11.3" font-weight="bold" text-anchor="middle">0</text>
<text x="177.30" y="297.50" font-size="11.3" font-weight="bold" text-anchor="middle">50</text>
<text x="22.40" y="287.70" font-size="11.3" font-weight="bold" text-anchor="end">0</text>
<text x="22.40" y="265.99" font-size="11.3" font-weight="bold" text-anchor="end">10</text>
<text x="22.40" y="244.28" font-size="11.3" font-weight="bold" text-anchor="end">20</text>
<text x="22.40" y="222.57" font-size="11.3" font-weight="bold" text-anchor="end">30</text>
<text x="22.40" y="200.86" font-size="11.3" font-weight="bold" text-anchor="end">40</text>
<text x="22.40" y="179.15" font-size="11.3" font-weight="bold" text-anchor="end">50</text>
<text x="101.85" y="312.60" font-size="11.3" font-weight="bold" text-anchor="middle">y</text>
<text x="6.70" y="229.12" font-size="11.3" font-weight="bold" text-anchor="middle" transform="rotate(-90 6.70 229.12)">z</text>
<line x1="273.50" y1="261.00" x2="357.90" y2="239.80" stroke="#e4e4e4" stroke-width="0.9"/>
<line x1="357.90" y1="239.80" x2="422.60" y2="268.00" stroke="#e4e4e4" stroke-width="0.9"/>
<line x1="273.50" y1="196.60" x2="357.90" y2="175.40" stroke="#e4e4e4" stroke-width="0.9"/>
<line x1="357.90" y1="175.40" x2="422.60" y2="203.60" stroke="#e4e4e4" stroke-width="0.9"/>
<line x1="273.50" y1="261.00" x2="273.50" y2="196.60" stroke="#e4e4e4" stroke-width="0.9"/>
<line x1="315.70" y1="250.40" x2="315.70" y2="186.00" stroke="#e4e4e4" stroke-width="0.9"/>
<line x1="357.90" y1="239.80" x2="357.90" y2="175.40" stroke="#e4e4e4" stroke-width="0.9"/>
<line x1="357.90" y1="239.80" x2="357.90" y2="175.40" stroke="#e4e4e4" stroke-width="0.9"/>
<line x1="390.25" y1="253.90" x2="390.25" y2="189.50" stroke="#e4e4e4" stroke-width="0.9"/>
<line x1="422.60" y1="268.00" x2="422.60" y2="203.60" stroke="#e4e4e4" stroke-width="0.9"/>
<line x1="338.40" y1="290.10" x2="273.50" y2="261.00" stroke="#e4e4e4" stroke-width="0.9"/>
<line x1="380.50" y1="279.05" x2="315.70" y2="250.40" stroke="#e4e4e4" stroke-width="0.9"/>
<line x1="422.60" y1="268.00" x2="357.90" y2="239.80" stroke="#e4e4e4" stroke-width="0.9"/>
<line x1="273.50" y1="261.00" x2="357.90" y2="239.80" stroke="#e4e4e4" stroke-width="0.9"/>
<line x1="305.95" y1="275.55" x2="390.25" y2="253.90" stroke="#e4e4e4" stroke-width="0.9"/>
<line x1="338.40" y1="290.10" x2="422.60" y2="268.00" stroke="#e4e4e4" stroke-width="0.9"/>
<path d="M331.00,197.70 C332.98,197.33 333.80,197.45 335.80,197.60 C337.80,197.75 340.97,198.10 343.00,198.60 C345.03,199.10 346.42,199.77 348.00,200.60 C349.58,201.43 350.52,202.33 352.50,203.60 C354.48,204.87 357.72,206.70 359.90,208.20 C362.08,209.70 365.60,212.60 365.60,212.60 C365.60,212.60 368.62,213.90 370.40,214.30 C372.18,214.70 374.32,214.50 376.30,215.00 C378.28,215.50 380.55,216.28 382.30,217.30 C384.05,218.32 385.55,219.72 386.80,221.10 C388.05,222.48 389.05,223.98 389.80,225.60 C390.55,227.22 391.30,229.30 391.30,230.80 C391.30,232.30 390.80,233.60 389.80,234.60 C388.80,235.60 387.30,235.93 385.30,236.80 C383.30,237.67 380.28,238.80 377.80,239.80 C375.32,240.80 372.62,241.72 370.40,242.80 C368.18,243.88 366.38,245.23 364.50,246.30 C362.62,247.37 360.62,248.17 359.10,249.20 C357.58,250.23 356.30,251.38 355.40,252.50 C354.50,253.62 354.42,254.55 353.70,255.90 C352.98,257.25 352.10,259.22 351.10,260.60 C350.10,261.98 348.83,263.08 347.70,264.20 C346.57,265.32 345.42,266.62 344.30,267.30 C343.18,267.98 341.88,268.63 341.00,268.30 C340.12,267.97 339.78,266.43 339.00,265.30 C338.22,264.17 337.43,262.62 336.30,261.50 C335.17,260.38 334.22,259.75 332.20,258.60 C330.18,257.45 326.88,256.17 324.20,254.60 C321.52,253.03 318.57,251.12 316.10,249.20 C313.63,247.28 311.18,244.90 309.40,243.10 C307.62,241.30 306.18,240.07 305.40,238.40 C304.62,236.73 304.70,234.67 304.70,233.10 C304.70,231.53 304.98,230.48 305.40,229.00 C305.82,227.52 306.52,226.18 307.20,224.20 C307.88,222.22 308.52,219.48 309.50,217.10 C310.48,214.72 311.70,212.10 313.10,209.90 C314.50,207.70 316.10,205.58 317.90,203.90 C319.70,202.22 321.72,200.83 323.90,199.80 C326.08,198.77 329.02,198.07 331.00,197.70Z" fill="#0072BD"/>
<path d="M308.00,222.00 C308.58,220.50 310.08,215.67 311.50,213.00 C312.92,210.33 314.58,207.95 316.50,206.00 C318.42,204.05 320.58,202.43 323.00,201.30 C325.42,200.17 328.50,199.52 331.00,199.20 C333.50,198.88 335.67,198.97 338.00,199.40 C340.33,199.83 343.83,201.40 345.00,201.80" fill="none" stroke="#fff" stroke-width="0.5" stroke-opacity="0.4" stroke-linecap="round"/>
<path d="M309.50,224.00 C310.08,222.58 311.58,218.08 313.00,215.50 C314.42,212.92 316.08,210.50 318.00,208.50 C319.92,206.50 322.17,204.72 324.50,203.50 C326.83,202.28 330.75,201.58 332.00,201.20" fill="none" stroke="#fff" stroke-width="0.45" stroke-opacity="0.3" stroke-linecap="round"/>
<path d="M315.30,229.70 C316.70,228.30 322.30,222.70 323.70,221.30" fill="none" stroke="#fff" stroke-width="0.45" stroke-opacity="0.35" stroke-linecap="round"/>
<line x1="273.50" y1="261.00" x2="273.50" y2="196.60" stroke="#9a9a9a" stroke-width="1.0"/>
<line x1="273.50" y1="261.00" x2="338.40" y2="290.10" stroke="#808080" stroke-width="0.9"/>
<line x1="338.40" y1="290.10" x2="422.60" y2="268.00" stroke="#808080" stroke-width="0.9"/>
<line x1="273.50" y1="261.00" x2="271.50" y2="261.00" stroke="#8c8c8c" stroke-width="1"/>
<line x1="273.50" y1="196.60" x2="271.50" y2="196.60" stroke="#8c8c8c" stroke-width="1"/>
<line x1="338.40" y1="290.10" x2="336.58" y2="289.28" stroke="#808080" stroke-width="0.9"/>
<line x1="380.50" y1="279.05" x2="378.67" y2="278.24" stroke="#808080" stroke-width="0.9"/>
<line x1="422.60" y1="268.00" x2="420.77" y2="267.20" stroke="#808080" stroke-width="0.9"/>
<line x1="273.50" y1="261.00" x2="275.44" y2="260.51" stroke="#808080" stroke-width="0.9"/>
<line x1="305.95" y1="275.55" x2="307.89" y2="275.05" stroke="#808080" stroke-width="0.9"/>
<line x1="338.40" y1="290.10" x2="340.33" y2="289.59" stroke="#808080" stroke-width="0.9"/>
<line x1="518.40" y1="261.00" x2="601.80" y2="239.80" stroke="#e4e4e4" stroke-width="0.9"/>
<line x1="601.80" y1="239.80" x2="667.80" y2="268.50" stroke="#e4e4e4" stroke-width="0.9"/>
<line x1="518.40" y1="228.80" x2="601.80" y2="207.60" stroke="#e4e4e4" stroke-width="0.9"/>
<line x1="601.80" y1="207.60" x2="667.80" y2="236.30" stroke="#e4e4e4" stroke-width="0.9"/>
<line x1="518.40" y1="196.60" x2="601.80" y2="175.40" stroke="#e4e4e4" stroke-width="0.9"/>
<line x1="601.80" y1="175.40" x2="667.80" y2="204.10" stroke="#e4e4e4" stroke-width="0.9"/>
<line x1="518.40" y1="261.00" x2="518.40" y2="196.60" stroke="#e4e4e4" stroke-width="0.9"/>
<line x1="539.25" y1="255.70" x2="539.25" y2="191.30" stroke="#e4e4e4" stroke-width="0.9"/>
<line x1="560.10" y1="250.40" x2="560.10" y2="186.00" stroke="#e4e4e4" stroke-width="0.9"/>
<line x1="580.95" y1="245.10" x2="580.95" y2="180.70" stroke="#e4e4e4" stroke-width="0.9"/>
<line x1="601.80" y1="239.80" x2="601.80" y2="175.40" stroke="#e4e4e4" stroke-width="0.9"/>
<line x1="608.27" y1="242.61" x2="608.27" y2="178.21" stroke="#e4e4e4" stroke-width="0.9"/>
<line x1="635.13" y1="254.29" x2="635.13" y2="189.89" stroke="#e4e4e4" stroke-width="0.9"/>
<line x1="661.86" y1="265.92" x2="661.86" y2="201.52" stroke="#e4e4e4" stroke-width="0.9"/>
<line x1="584.40" y1="290.30" x2="518.40" y2="261.00" stroke="#e4e4e4" stroke-width="0.9"/>
<line x1="605.25" y1="284.85" x2="539.25" y2="255.70" stroke="#e4e4e4" stroke-width="0.9"/>
<line x1="626.10" y1="279.40" x2="560.10" y2="250.40" stroke="#e4e4e4" stroke-width="0.9"/>
<line x1="646.95" y1="273.95" x2="580.95" y2="245.10" stroke="#e4e4e4" stroke-width="0.9"/>
<line x1="667.80" y1="268.50" x2="601.80" y2="239.80" stroke="#e4e4e4" stroke-width="0.9"/>
<line x1="524.87" y1="263.87" x2="608.27" y2="242.61" stroke="#e4e4e4" stroke-width="0.9"/>
<line x1="551.73" y1="275.80" x2="635.13" y2="254.29" stroke="#e4e4e4" stroke-width="0.9"/>
<line x1="578.46" y1="287.66" x2="661.86" y2="265.92" stroke="#e4e4e4" stroke-width="0.9"/>
<path d="M610.47,187.44 C611.05,187.70 611.53,188.40 611.82,189.75 C612.11,191.09 612.11,193.44 612.20,195.52 C612.30,197.60 612.35,200.14 612.39,202.25 C612.44,204.37 612.59,205.97 612.49,208.22 C612.39,210.46 612.30,213.70 611.82,215.72 C611.34,217.74 610.66,217.81 609.60,220.34 C608.55,222.87 606.51,227.55 605.47,230.92 C604.43,234.29 604.28,237.22 603.35,240.54 C602.42,243.86 600.93,247.61 599.89,250.84 C598.85,254.06 598.09,257.59 597.10,259.88 C596.10,262.17 595.01,263.71 593.92,264.59 C592.83,265.47 591.71,265.17 590.56,265.17 C589.40,265.17 588.07,265.25 587.00,264.59 C585.92,263.93 585.23,262.88 584.11,261.22 C582.99,259.57 581.55,257.28 580.26,254.68 C578.98,252.09 577.71,248.65 576.42,245.64 C575.12,242.63 573.42,239.18 572.47,236.60 C571.53,234.02 571.03,231.68 570.74,230.15 C570.45,228.63 570.56,228.85 570.74,227.46 C570.92,226.06 571.33,223.59 571.80,221.78 C572.26,219.97 572.78,218.13 573.53,216.59 C574.28,215.05 575.08,213.62 576.32,212.55 C577.55,211.47 579.45,210.61 580.94,210.14 C582.43,209.68 583.76,209.73 585.27,209.76 C586.77,209.79 588.75,209.74 589.98,210.33 C591.21,210.93 592.67,213.32 592.67,213.32 C592.67,213.32 593.88,210.80 594.50,209.28 C595.13,207.75 595.50,206.04 596.43,204.18 C597.36,202.32 598.80,200.19 600.08,198.12 C601.36,196.05 602.74,193.42 604.12,191.77 C605.50,190.12 607.30,188.93 608.35,188.21 C609.41,187.49 609.89,187.18 610.47,187.44Z" fill="#0072BD"/>
<path d="M610.78,186.66 C611.36,186.93 611.85,187.64 612.15,189.01 C612.44,190.38 612.44,192.76 612.54,194.88 C612.64,197.00 612.68,199.57 612.73,201.73 C612.78,203.88 612.93,205.51 612.83,207.79 C612.73,210.07 612.64,213.36 612.15,215.42 C611.66,217.47 610.97,217.54 609.90,220.11 C608.82,222.69 606.75,227.45 605.69,230.87 C604.63,234.29 604.49,237.28 603.54,240.65 C602.60,244.02 601.08,247.84 600.02,251.12 C598.96,254.39 598.19,257.98 597.18,260.31 C596.17,262.64 595.06,264.20 593.96,265.10 C592.85,266.00 591.71,265.69 590.53,265.69 C589.36,265.69 588.01,265.77 586.91,265.10 C585.82,264.43 585.12,263.36 583.98,261.68 C582.84,260.00 581.37,257.67 580.07,255.03 C578.76,252.39 577.48,248.90 576.16,245.83 C574.84,242.77 573.11,239.26 572.15,236.64 C571.18,234.02 570.68,231.64 570.39,230.09 C570.09,228.54 570.21,228.77 570.39,227.35 C570.57,225.93 570.99,223.42 571.46,221.58 C571.93,219.74 572.46,217.86 573.22,216.30 C573.99,214.73 574.80,213.28 576.06,212.19 C577.31,211.10 579.24,210.22 580.75,209.75 C582.27,209.27 583.62,209.32 585.15,209.35 C586.69,209.39 588.69,209.34 589.95,209.94 C591.20,210.54 591.92,213.15 592.68,212.97 C593.45,212.79 593.91,210.41 594.54,208.87 C595.18,207.32 595.55,205.57 596.50,203.68 C597.44,201.79 598.91,199.62 600.22,197.52 C601.52,195.42 602.92,192.74 604.32,191.07 C605.72,189.39 607.55,188.18 608.63,187.45 C609.70,186.71 610.19,186.40 610.78,186.66Z" fill="none" stroke="#0072BD" stroke-width="0.6" stroke-opacity="0.9" stroke-linecap="round"/>
<path d="M611.05,185.99 C611.64,186.25 612.14,186.98 612.44,188.37 C612.73,189.76 612.73,192.17 612.83,194.32 C612.93,196.47 612.98,199.08 613.03,201.26 C613.08,203.45 613.23,205.10 613.13,207.41 C613.03,209.73 612.93,213.07 612.44,215.15 C611.94,217.24 611.24,217.30 610.15,219.91 C609.06,222.53 606.96,227.35 605.89,230.83 C604.81,234.30 604.66,237.32 603.71,240.75 C602.75,244.17 601.21,248.04 600.13,251.36 C599.06,254.68 598.28,258.32 597.26,260.68 C596.23,263.05 595.11,264.64 593.98,265.55 C592.86,266.45 591.70,266.14 590.51,266.14 C589.32,266.14 587.95,266.22 586.84,265.55 C585.73,264.87 585.02,263.78 583.87,262.07 C582.71,260.37 581.22,258.01 579.90,255.33 C578.57,252.65 577.27,249.11 575.93,246.00 C574.59,242.89 572.84,239.34 571.86,236.68 C570.89,234.02 570.37,231.60 570.08,230.03 C569.78,228.46 569.89,228.69 570.08,227.25 C570.26,225.82 570.69,223.27 571.17,221.40 C571.65,219.53 572.18,217.63 572.95,216.04 C573.73,214.46 574.56,212.99 575.83,211.88 C577.10,210.77 579.05,209.88 580.59,209.40 C582.13,208.92 583.50,208.97 585.06,209.00 C586.61,209.03 588.64,208.99 589.92,209.60 C591.19,210.21 591.92,212.85 592.69,212.67 C593.47,212.49 593.93,210.08 594.58,208.51 C595.22,206.93 595.60,205.17 596.56,203.25 C597.52,201.33 599.01,199.13 600.33,197.00 C601.66,194.87 603.08,192.15 604.50,190.45 C605.92,188.75 607.77,187.52 608.86,186.78 C609.96,186.04 610.45,185.72 611.05,185.99Z" fill="none" stroke="#0072BD" stroke-width="0.55" stroke-opacity="0.8" stroke-linecap="round"/>
<path d="M611.32,185.31 C611.92,185.58 612.42,186.32 612.72,187.72 C613.03,189.13 613.03,191.58 613.13,193.76 C613.23,195.94 613.28,198.59 613.33,200.80 C613.38,203.02 613.53,204.69 613.43,207.04 C613.33,209.39 613.23,212.77 612.72,214.89 C612.22,217.00 611.52,217.07 610.41,219.71 C609.30,222.36 607.17,227.26 606.08,230.78 C604.99,234.30 604.84,237.37 603.87,240.84 C602.90,244.31 601.34,248.23 600.25,251.60 C599.16,254.98 598.37,258.66 597.33,261.06 C596.29,263.46 595.15,265.07 594.01,265.99 C592.87,266.91 591.70,266.59 590.49,266.59 C589.28,266.59 587.89,266.68 586.77,265.99 C585.65,265.30 584.92,264.20 583.75,262.47 C582.58,260.74 581.07,258.35 579.73,255.63 C578.39,252.91 577.06,249.32 575.70,246.17 C574.34,243.02 572.57,239.42 571.58,236.72 C570.59,234.02 570.07,231.57 569.77,229.98 C569.47,228.38 569.58,228.62 569.77,227.16 C569.95,225.70 570.39,223.12 570.87,221.22 C571.36,219.33 571.90,217.40 572.68,215.79 C573.47,214.18 574.31,212.69 575.60,211.57 C576.89,210.44 578.87,209.54 580.43,209.05 C581.99,208.56 583.38,208.62 584.96,208.65 C586.53,208.68 588.60,208.63 589.89,209.25 C591.18,209.87 591.92,212.56 592.70,212.37 C593.49,212.19 593.96,209.74 594.62,208.15 C595.27,206.55 595.66,204.76 596.63,202.81 C597.60,200.87 599.11,198.64 600.45,196.48 C601.79,194.31 603.23,191.56 604.68,189.84 C606.12,188.11 608.00,186.87 609.10,186.11 C610.21,185.36 610.71,185.04 611.32,185.31Z" fill="none" stroke="#0072BD" stroke-width="0.5" stroke-opacity="0.6" stroke-linecap="round"/>
<path d="M572.26,222.06 C572.54,221.22 573.22,218.49 573.95,216.99 C574.69,215.48 575.47,214.09 576.68,213.04 C577.88,211.99 579.73,211.14 581.19,210.69 C582.65,210.23 583.95,210.28 585.42,210.31 C586.89,210.34 588.82,210.30 590.03,210.88 C591.23,211.46 591.92,213.96 592.66,213.79 C593.39,213.62 593.83,211.33 594.44,209.84 C595.06,208.35 595.42,206.68 596.32,204.86 C597.23,203.04 598.64,200.96 599.90,198.94 C601.15,196.92 602.50,194.35 603.84,192.73 C605.19,191.12 606.95,189.96 607.98,189.26 C609.01,188.55 609.48,188.25 610.05,188.50 C610.61,188.75 611.08,189.44 611.36,190.76 C611.65,192.08 611.68,195.46 611.74,196.40" fill="none" stroke="#fff" stroke-width="0.4" stroke-opacity="0.35" stroke-linecap="round"/>
<path d="M572.78,222.38 C573.06,221.56 573.72,218.90 574.43,217.44 C575.15,215.97 575.91,214.62 577.09,213.60 C578.26,212.57 580.06,211.75 581.48,211.31 C582.90,210.87 584.16,210.91 585.60,210.94 C587.03,210.97 588.90,210.93 590.08,211.49 C591.25,212.06 591.92,214.50 592.64,214.33 C593.36,214.16 593.78,211.93 594.38,210.48 C594.97,209.04 595.32,207.40 596.21,205.63 C597.09,203.87 598.47,201.84 599.69,199.87 C600.91,197.90 602.22,195.40 603.53,193.83 C604.84,192.26 606.55,191.13 607.55,190.45 C608.56,189.76 609.02,189.47 609.57,189.71 C610.12,189.96 610.57,190.63 610.85,191.91 C611.12,193.19 611.15,196.49 611.22,197.40" fill="none" stroke="#fff" stroke-width="0.4" stroke-opacity="0.25" stroke-linecap="round"/>
<path d="M576.04,245.92 C575.37,244.38 572.97,239.30 572.00,236.66 C571.04,234.02 570.53,231.62 570.23,230.06 C569.94,228.50 570.05,228.73 570.23,227.30 C570.41,225.87 570.84,223.35 571.32,221.49 C571.79,219.64 572.32,217.75 573.09,216.17 C573.86,214.60 574.68,213.13 575.94,212.03 C577.21,210.93 579.15,210.05 580.67,209.57 C582.20,209.10 583.56,209.15 585.11,209.18 C586.65,209.21 588.67,209.16 589.93,209.77 C591.20,210.38 592.23,212.31 592.69,212.82" fill="none" stroke="#fff" stroke-width="0.35" stroke-opacity="0.45" stroke-linecap="round"/>
<path d="M594.56,208.69 C594.89,207.82 595.58,205.37 596.53,203.47 C597.48,201.56 598.96,199.38 600.27,197.26 C601.59,195.14 603.00,192.45 604.41,190.76 C605.82,189.07 607.66,187.85 608.75,187.11 C609.83,186.38 610.32,186.06 610.91,186.33 C611.50,186.59 612.00,187.31 612.29,188.69 C612.59,190.07 612.59,192.47 612.68,194.60 C612.78,196.73 612.83,199.33 612.88,201.50 C612.93,203.66 612.96,206.58 612.98,207.60" fill="none" stroke="#fff" stroke-width="0.35" stroke-opacity="0.45" stroke-linecap="round"/>
<path d="M575.82,246.09 C575.13,244.52 572.70,239.38 571.72,236.70 C570.74,234.02 570.22,231.59 569.92,230.00 C569.62,228.42 569.74,228.66 569.92,227.21 C570.11,225.76 570.54,223.19 571.02,221.31 C571.50,219.43 572.04,217.52 572.82,215.92 C573.60,214.32 574.43,212.84 575.72,211.72 C577.00,210.61 578.96,209.71 580.51,209.22 C582.06,208.74 583.44,208.79 585.01,208.83 C586.57,208.86 588.62,208.81 589.90,209.42 C591.18,210.04 592.23,212.01 592.70,212.52" fill="none" stroke="#fff" stroke-width="0.35" stroke-opacity="0.4" stroke-linecap="round"/>
<path d="M594.60,208.33 C594.93,207.44 595.63,204.96 596.60,203.03 C597.56,201.10 599.06,198.89 600.39,196.74 C601.72,194.59 603.16,191.86 604.59,190.14 C606.02,188.43 607.88,187.20 608.98,186.45 C610.08,185.70 610.58,185.38 611.18,185.65 C611.78,185.91 612.28,186.65 612.58,188.05 C612.88,189.44 612.88,191.88 612.98,194.04 C613.08,196.20 613.13,198.84 613.18,201.03 C613.23,203.23 613.26,206.19 613.28,207.23" fill="none" stroke="#fff" stroke-width="0.35" stroke-opacity="0.4" stroke-linecap="round"/>
<line x1="518.40" y1="261.00" x2="518.40" y2="196.60" stroke="#9a9a9a" stroke-width="1.0"/>
<line x1="518.40" y1="261.00" x2="584.40" y2="290.30" stroke="#808080" stroke-width="0.9"/>
<line x1="584.40" y1="290.30" x2="667.80" y2="268.50" stroke="#808080" stroke-width="0.9"/>
<line x1="518.40" y1="261.00" x2="516.40" y2="261.00" stroke="#8c8c8c" stroke-width="1"/>
<line x1="518.40" y1="228.80" x2="516.40" y2="228.80" stroke="#8c8c8c" stroke-width="1"/>
<line x1="518.40" y1="196.60" x2="516.40" y2="196.60" stroke="#8c8c8c" stroke-width="1"/>
<line x1="584.40" y1="290.30" x2="582.57" y2="289.49" stroke="#808080" stroke-width="0.9"/>
<line x1="605.25" y1="284.85" x2="603.42" y2="284.04" stroke="#808080" stroke-width="0.9"/>
<line x1="626.10" y1="279.40" x2="624.27" y2="278.60" stroke="#808080" stroke-width="0.9"/>
<line x1="646.95" y1="273.95" x2="645.12" y2="273.15" stroke="#808080" stroke-width="0.9"/>
<line x1="667.80" y1="268.50" x2="665.97" y2="267.70" stroke="#808080" stroke-width="0.9"/>
<line x1="524.87" y1="263.87" x2="526.81" y2="263.38" stroke="#808080" stroke-width="0.9"/>
<line x1="551.73" y1="275.80" x2="553.67" y2="275.30" stroke="#808080" stroke-width="0.9"/>
<line x1="578.46" y1="287.66" x2="580.40" y2="287.16" stroke="#808080" stroke-width="0.9"/>
<text x="268.10" y="199.00" font-size="11.3" font-weight="bold" text-anchor="end">50</text>
<text x="268.00" y="262.50" font-size="11.3" font-weight="bold" text-anchor="end">0</text>
<text x="267.50" y="273.80" font-size="11.3" font-weight="bold" text-anchor="end">50</text>
<text x="300.00" y="288.10" font-size="11.3" font-weight="bold" text-anchor="end">0</text>
<text x="333.00" y="303.40" font-size="11.3" font-weight="bold" text-anchor="end">-50</text>
<text x="343.20" y="303.30" font-size="11.3" font-weight="bold" text-anchor="start">-20</text>
<text x="385.60" y="292.60" font-size="11.3" font-weight="bold" text-anchor="start">0</text>
<text x="428.00" y="281.50" font-size="11.3" font-weight="bold" text-anchor="start">20</text>
<text x="251.70" y="229.50" font-size="11.3" font-weight="bold" text-anchor="middle" transform="rotate(-90 251.70 229.50)">z</text>
<text x="286.20" y="312.00" font-size="11.3" font-weight="bold" text-anchor="middle">y</text>
<text x="395.50" y="312.80" font-size="11.3" font-weight="bold" text-anchor="middle">x</text>
<text x="513.30" y="199.40" font-size="11.3" font-weight="bold" text-anchor="end">40</text>
<text x="513.30" y="231.40" font-size="11.3" font-weight="bold" text-anchor="end">20</text>
<text x="513.30" y="262.80" font-size="11.3" font-weight="bold" text-anchor="end">0</text>
<text x="519.20" y="276.60" font-size="11.3" font-weight="bold" text-anchor="end">20</text>
<text x="546.30" y="288.50" font-size="11.3" font-weight="bold" text-anchor="end">0</text>
<text x="572.50" y="299.70" font-size="11.3" font-weight="bold" text-anchor="end">-20</text>
<text x="608.80" y="298.30" font-size="11.3" font-weight="bold" text-anchor="start">-10</text>
<text x="630.70" y="292.30" font-size="11.3" font-weight="bold" text-anchor="start">0</text>
<text x="651.40" y="287.00" font-size="11.3" font-weight="bold" text-anchor="start">10</text>
<text x="671.80" y="281.30" font-size="11.3" font-weight="bold" text-anchor="start">20</text>
<text x="497.20" y="229.20" font-size="11.3" font-weight="bold" text-anchor="middle" transform="rotate(-90 497.20 229.20)">z</text>
<text x="531.20" y="310.60" font-size="11.3" font-weight="bold" text-anchor="middle">y</text>
<text x="640.60" y="312.10" font-size="11.3" font-weight="bold" text-anchor="middle">x</text>
<text x="60.20" y="159.80" font-size="16">(a) <tspan font-style="italic">x-y</tspan> space</text>
<text x="305.00" y="159.80" font-size="16">(b) <tspan font-style="italic">x-z</tspan> space</text>
<text x="548.50" y="159.80" font-size="16">(c) <tspan font-style="italic">x-w</tspan> space</text>
<text x="60.10" y="330.00" font-size="16">(d) <tspan font-style="italic">y-z</tspan> space</text>
<text x="299.30" y="330.00" font-size="16">(e) <tspan font-style="italic">x-y-z</tspan> space</text>
<text x="489.30" y="330.00" font-size="16">(f)4D Chen system <tspan font-style="italic">x-y-z</tspan> space</text>
</svg></body></html>
